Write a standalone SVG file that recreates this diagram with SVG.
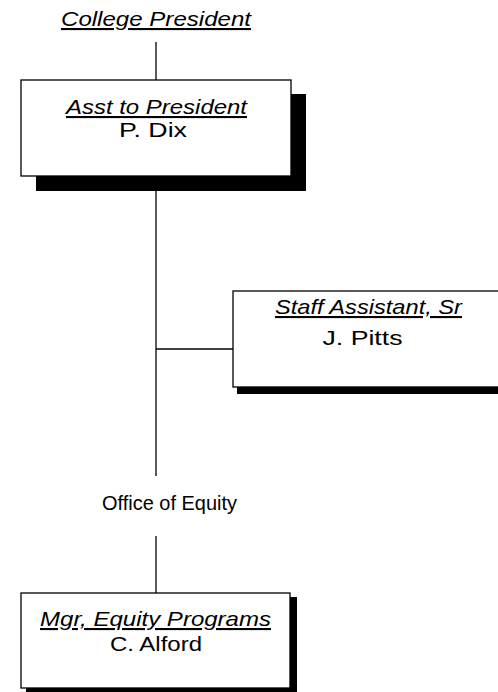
<svg xmlns="http://www.w3.org/2000/svg" width="498" height="692" viewBox="0 0 498 692">
<style>
.box{fill:#fff;stroke:#000;stroke-width:1.3}
.sh{fill:#000}
.ln{stroke:#000;stroke-width:1.3;fill:none}
text{font-family:"Liberation Sans",Arial,sans-serif;font-size:21px;fill:#000;text-anchor:middle}
.t{font-style:italic;text-decoration:underline}
</style>
<rect width="498" height="692" fill="#fff"/>
<g id="connectors">
<line class="ln" x1="156" y1="42" x2="156" y2="80"/>
<line class="ln" x1="156" y1="191" x2="156" y2="476"/>
<line class="ln" x1="156" y1="349" x2="233" y2="349"/>
<line class="ln" x1="156" y1="536" x2="156" y2="593"/>
</g>
<g id="college-president">
<text class="t" x="156" y="26" textLength="190" lengthAdjust="spacingAndGlyphs">College President</text>
</g>
<g id="asst-to-president">
<rect class="sh" x="36" y="94" width="270" height="97"/>
<rect class="box" x="21" y="80" width="270" height="96"/>
<text class="t" x="156.5" y="114" textLength="181" lengthAdjust="spacingAndGlyphs">Asst to President</text>
<text x="153" y="137" textLength="68" lengthAdjust="spacingAndGlyphs">P. Dix</text>
</g>
<g id="staff-assistant">
<rect class="sh" x="237" y="296" width="280" height="98"/>
<rect class="box" x="233" y="291" width="280" height="96"/>
<text class="t" x="368.5" y="314" textLength="187" lengthAdjust="spacingAndGlyphs">Staff Assistant, Sr</text>
<text x="362.5" y="345" textLength="80" lengthAdjust="spacingAndGlyphs">J. Pitts</text>
</g>
<g id="office-of-equity">
<text x="169.5" y="510" textLength="135" lengthAdjust="spacingAndGlyphs">Office of Equity</text>
</g>
<g id="mgr-equity-programs">
<rect class="sh" x="26" y="597" width="271" height="96"/>
<rect class="box" x="21" y="593" width="269" height="95"/>
<text class="t" x="155.5" y="626" textLength="231" lengthAdjust="spacingAndGlyphs">Mgr, Equity Programs</text>
<text x="156" y="651" textLength="92" lengthAdjust="spacingAndGlyphs">C. Alford</text>
</g>
</svg>
